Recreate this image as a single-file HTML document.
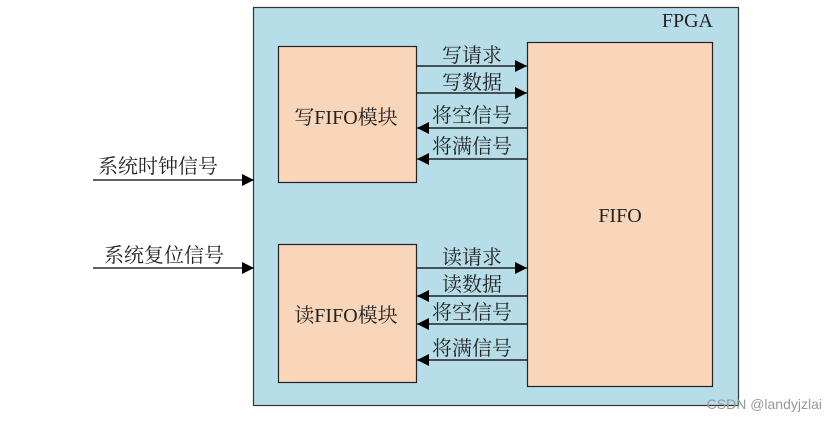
<!DOCTYPE html>
<html><head><meta charset="utf-8">
<style>
html,body{margin:0;padding:0;background:#fff;}
svg{display:block;}
text{font-family:"Liberation Serif","Noto Serif CJK SC",serif;font-size:20px;fill:#222;}
</style></head>
<body>
<svg width="838" height="421" viewBox="0 0 838 421" xmlns="http://www.w3.org/2000/svg">
<defs>
<marker id="a" viewBox="0 0 10 10" refX="10" refY="5" markerWidth="12" markerHeight="12" markerUnits="userSpaceOnUse" orient="auto">
<path d="M0,0 L10,5 L0,10 z" fill="#000"/></marker>
</defs>
<rect x="253.5" y="7.5" width="485" height="398" fill="#b7dde8" stroke="#333" stroke-width="1.2"/>
<text x="713" y="27" text-anchor="end" font-size="16">FPGA</text>
<rect x="278.5" y="46.5" width="138" height="136" fill="#f9d6b9" stroke="#222" stroke-width="1.2"/>
<rect x="278.5" y="244.5" width="138" height="138" fill="#f9d6b9" stroke="#222" stroke-width="1.2"/>
<rect x="527.5" y="42.5" width="185" height="344" fill="#f9d6b9" stroke="#222" stroke-width="1.2"/>
<text x="346" y="124" text-anchor="middle" font-size="19">写FIFO模块</text>
<text x="346" y="322" text-anchor="middle" font-size="19">读FIFO模块</text>
<text x="620" y="222" text-anchor="middle" font-size="19">FIFO</text>
<g stroke="#000" stroke-width="1.3">
<line x1="417" y1="66" x2="527" y2="66" marker-end="url(#a)"/>
<line x1="417" y1="93" x2="527" y2="93" marker-end="url(#a)"/>
<line x1="527" y1="128" x2="417" y2="128" marker-end="url(#a)"/>
<line x1="527" y1="159" x2="417" y2="159" marker-end="url(#a)"/>
<line x1="417" y1="268" x2="527" y2="268" marker-end="url(#a)"/>
<line x1="527" y1="296" x2="417" y2="296" marker-end="url(#a)"/>
<line x1="527" y1="324" x2="417" y2="324" marker-end="url(#a)"/>
<line x1="527" y1="360" x2="417" y2="360" marker-end="url(#a)"/>
<line x1="93" y1="180" x2="254" y2="180" marker-end="url(#a)"/>
<line x1="93" y1="268" x2="254" y2="268" marker-end="url(#a)"/>
</g>
<text x="472" y="62" text-anchor="middle">写请求</text>
<text x="472" y="89" text-anchor="middle">写数据</text>
<text x="472" y="122" text-anchor="middle">将空信号</text>
<text x="472" y="153" text-anchor="middle">将满信号</text>
<text x="472" y="264" text-anchor="middle">读请求</text>
<text x="472" y="291" text-anchor="middle">读数据</text>
<text x="472" y="319" text-anchor="middle">将空信号</text>
<text x="472" y="355" text-anchor="middle">将满信号</text>
<text x="158" y="173" text-anchor="middle">系统时钟信号</text>
<text x="164" y="262" text-anchor="middle">系统复位信号</text>
<text x="822" y="409" text-anchor="end" style="font-family:'Liberation Sans',sans-serif;font-size:14px;fill:#999;">CSDN @landyjzlai</text>
</svg>
</body></html>
